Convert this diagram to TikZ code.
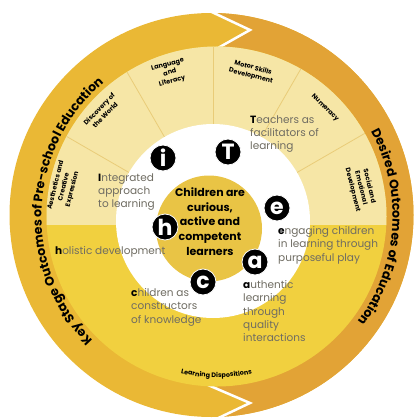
\documentclass[tikz,border=0pt]{standalone}
\usepackage{fontspec}
\setmainfont{Poppins}
\usetikzlibrary{decorations.text}
\definecolor{ringleft}{HTML}{EAB835}
\definecolor{ringright}{HTML}{E2A336}
\definecolor{discyellow}{HTML}{F1D03F}
\definecolor{paleband}{HTML}{F6E6A6}
\definecolor{divline}{HTML}{E9CC78}
\definecolor{coregold}{HTML}{E9C445}
\definecolor{descgray}{HTML}{6F6C62}

\begin{document}
\begin{tikzpicture}[x=1pt, y=-1pt,
  dot/.style={circle, fill=black, draw=white, line width=0.8pt, minimum size=26pt, inner sep=0pt, text=white, font=\bfseries\fontsize{22}{22}\selectfont},
  desc/.style={anchor=north west, align=left, inner sep=0pt, text=descgray, font=\fontsize{10.5}{13.2}\selectfont},
  area/.style={align=center, inner sep=0pt, font=\bfseries\fontsize{6.5}{8.5}\selectfont},
  chevline/.style={white, line width=2.5pt, line join=miter}]
\useasboundingbox (0,0) rectangle (415,420);
% outer ring, split in two
\fill[ringleft] (211.5,215) circle [radius=202];
\begin{scope}
  \clip (211.5,215) circle [radius=202];
  \fill[ringright] (199,6) -- (250,30) -- (218,48) -- (218,388) -- (250,403) -- (210,422) -- (430,430) -- (430,-10) -- (199,-10) -- cycle;
\end{scope}
\draw[chevline] (199,6) -- (250,30) -- (218,48);
\draw[chevline] (208,385) -- (250,403) -- (210,422);
% main disc with the learning areas
\fill[discyellow] (216.5,216.5) circle [radius=170];
\begin{scope}
  \clip (216.5,216.5) circle [radius=170];
  \fill[paleband] (0,0) rectangle (415,225);
  \foreach \a in {30,60,...,150}
    \draw[divline, line width=0.8pt] (213,221) -- ++(-\a:200);
\end{scope}
\fill[white] (213,221) circle [radius=97];
\fill[coregold] (209,228.5) circle [radius=53];
\node (core) at (210,221.5) [align=center, font=\bfseries\fontsize{11}{14.7}\selectfont] {Children are\\curious,\\active and\\competent\\learners};
% iTeach letters
\node[dot] (i) at (163,158) {i};
\node[dot] (T) at (228,152) {T};
\node[dot] (e) at (277,208) {e};
\node[dot] (a) at (255,262) {a};
\node[dot] (c) at (203,282) {c};
\node[dot] (h) at (165,227) {h};
\node[desc] (teach) at (250,115.5) {\textcolor{black}{\textbf{T}}eachers as\\facilitators of\\learning};
\node[desc] (integ) at (98,173.5) {\textcolor{black}{\textbf{I}}ntegrated\\approach\\to learning};
\node[desc] (holis) at (55,246.5) {\textcolor{black}{\textbf{h}}olistic development};
\node[desc] (engag) at (278,226.5) {\textcolor{black}{\textbf{e}}ngaging children\\in learning through\\purposeful play};
\node[desc] (authe) at (243,280.5) {\textcolor{black}{\textbf{a}}uthentic\\learning\\through\\quality\\interactions};
\node[desc] (child) at (131,288.5) {\textcolor{black}{\textbf{c}}hildren as\\constructors\\of knowledge};
% learning areas
\node[area, rotate=76] (aesth) at (64,187) {Aesthetics and\\Creative\\Expression};
\node[area, rotate=45] (disco) at (102,112) {Discovery of\\the World};
\node[area, rotate=15] (langu) at (170,73) {Language\\and\\Literacy};
\node[area, rotate=-15] (motor) at (252,72) {Motor Skills\\Development};
\node[area, rotate=-45] (numer) at (325,108) {Numeracy};
\node[area, rotate=-76] (socia) at (361,188) {Social and\\Emotional\\Development};
% texts along the rings
\path[decorate, decoration={text along path, text align=center,
  text={|\bfseries\fontsize{12.5}{12.5}\selectfont|Key Stage Outcomes of Pre-school Education}}]
  (216.5,216.5) ++(120:175) arc [start angle=120, end angle=245, radius=175];
\path[decorate, decoration={text along path, text align=center,
  text={|\bfseries\fontsize{12.5}{12.5}\selectfont|Desired Outcomes of Education}}]
  (216.5,216.5) ++(-50:176) arc [start angle=-50, end angle=58, radius=176];
\path[decorate, decoration={text along path, text align=center,
  text={|\bfseries\fontsize{6.5}{6.5}\selectfont|Learning Dispositions}}]
  (216.5,216.5) ++(120:161) arc [start angle=120, end angle=60, radius=161];
\end{tikzpicture}
\end{document}
